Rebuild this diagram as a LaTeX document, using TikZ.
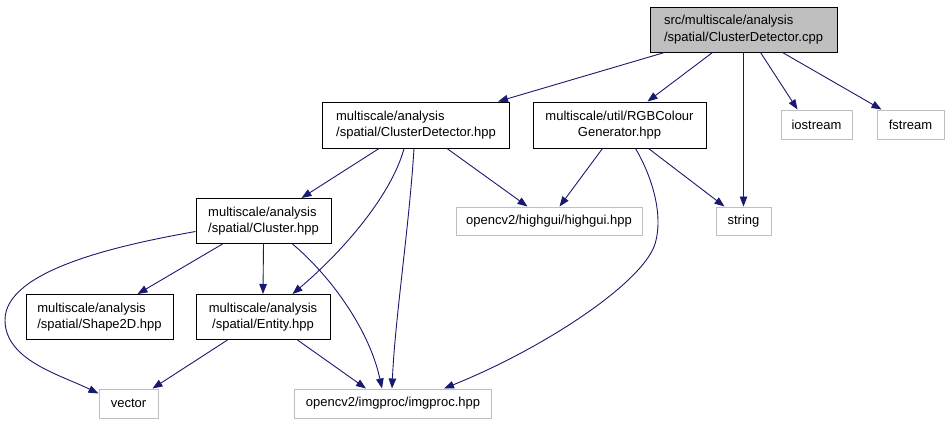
\documentclass[tikz,border=0pt]{standalone}
\usepackage{fontspec}
\setmainfont{Liberation Sans}
\usetikzlibrary{arrows.meta,calc}
\definecolor{edgeblue}{HTML}{191970}
\definecolor{sysgray}{HTML}{BFBFBF}
\begin{document}
\begin{tikzpicture}[x=1pt,y=-1pt,
  box/.style={draw=black,line width=1pt,inner sep=0pt,align=left,font=\fontsize{13}{16.5}\selectfont},
  sysbox/.style={draw=sysgray,line width=1pt,inner sep=0pt,align=center,font=\fontsize{13}{16.5}\selectfont},
  edge/.style={draw=edgeblue,line width=0.9pt,-{Triangle[length=10pt,width=7.5pt]},edgeblue}]
\useasboundingbox (0,0) rectangle (949,424);
% nodes
\node[box,fill=sysgray,minimum width=187pt,minimum height=45pt] (root) at (743.5,29.5) {src/multiscale/analysis\\/spatial/ClusterDetector.cpp};
\node[box,minimum width=187pt,minimum height=46pt] (cd) at (416,125) {multiscale/analysis\\/spatial/ClusterDetector.hpp};
\node[box,align=center,minimum width=173pt,minimum height=46pt] (rgb) at (619.5,125) {multiscale/util/RGBColour\\Generator.hpp};
\node[sysbox,minimum width=71pt,minimum height=29pt] (ios) at (816.5,124.5) {iostream};
\node[sysbox,minimum width=67pt,minimum height=29pt] (fs) at (910.5,124.5) {fstream};
\node[sysbox,minimum width=186pt,minimum height=28pt] (hg) at (549,221) {opencv2/highgui/highgui.hpp};
\node[sysbox,minimum width=55pt,minimum height=28pt] (str) at (743.5,221) {string};
\node[box,minimum width=135pt,minimum height=45pt] (cl) at (263.5,221) {multiscale/analysis\\/spatial/Cluster.hpp};
\node[box,minimum width=147pt,minimum height=45pt] (sh) at (99.5,317) {multiscale/analysis\\/spatial/Shape2D.hpp};
\node[box,align=center,minimum width=134pt,minimum height=45pt] (en) at (263,317) {multiscale/analysis\\/spatial/Entity.hpp};
\node[sysbox,minimum width=59pt,minimum height=29pt] (vec) at (128.5,403.5) {vector};
\node[sysbox,minimum width=197pt,minimum height=29pt] (ip) at (393,403.5) {opencv2/imgproc/imgproc.hpp};
% edges from root
\draw[edge] ($(root.south west)+(15,0)$) -- ($(cd.north east)+(-12,0)$);
\draw[edge] ($(root.south west)+(63,0)$) -- ($(rgb.north west)+(115,0)$);
\draw[edge] (root.south) -- (str.north);
\draw[edge] ($(root.south west)+(111,0)$) -- ($(ios.north west)+(17,0)$);
\draw[edge] ($(root.south west)+(133,0)$) -- ($(fs.north west)+(5,0)$);
% edges from ClusterDetector.hpp
\draw[edge] ($(cd.south west)+(57,0)$) -- ($(cl.north west)+(106,0)$);
\draw[edge] ($(cd.south west)+(82,0)$) .. controls ($(cd.south west)+(70,45)$) and ($(en.north west)+(150,-45)$) .. ($(en.north west)+(97,0)$);
\draw[edge] ($(cd.south west)+(92,0)$) .. controls ($(cd.south west)+(87,80)$) and ($(ip.north west)+(101,-70)$) .. ($(ip.north west)+(98,0)$);
\draw[edge] ($(cd.south west)+(125,0)$) -- ($(hg.north west)+(72,0)$);
% edges from RGBColourGenerator.hpp
\draw[edge] ($(rgb.south west)+(70,0)$) -- ($(hg.north west)+(104,0)$);
\draw[edge] ($(rgb.south west)+(103,0)$) .. controls ($(rgb.south west)+(119,27)$) and ($(rgb.south west)+(132,67)$) .. ($(rgb.south west)+(122,97)$) .. controls ($(rgb.south west)+(107,137)$) and ($(ip.north east)+(49,-39)$) .. ($(ip.north east)+(-48,0)$);
\draw[edge] ($(rgb.south west)+(116,0)$) -- ($(str.north west)+(9,0)$);
% edges from Cluster.hpp
\draw[edge] ($(cl.west)+(0,10.5)$) .. controls ($(cl.west)+(-76,24)$) and (5,270) .. (5,320) .. controls (5,360) and ($(vec.north west)+(-39,-14)$) .. ($(vec.north west)+(0,5)$);
\draw[edge] ($(cl.south west)+(27,0)$) -- ($(sh.north west)+(112,0)$);
\draw[edge] (cl.south) -- (en.north);
\draw[edge] ($(cl.south west)+(97,0)$) .. controls ($(cl.south west)+(134,31)$) and ($(ip.north west)+(75,-60)$) .. ($(ip.north west)+(88,0)$);
% edges from Entity.hpp
\draw[edge] ($(en.south west)+(32,0)$) -- ($(vec.north east)+(-6,0)$);
\draw[edge] ($(en.south west)+(102,0)$) -- ($(ip.north west)+(72,0)$);
\end{tikzpicture}
\end{document}
